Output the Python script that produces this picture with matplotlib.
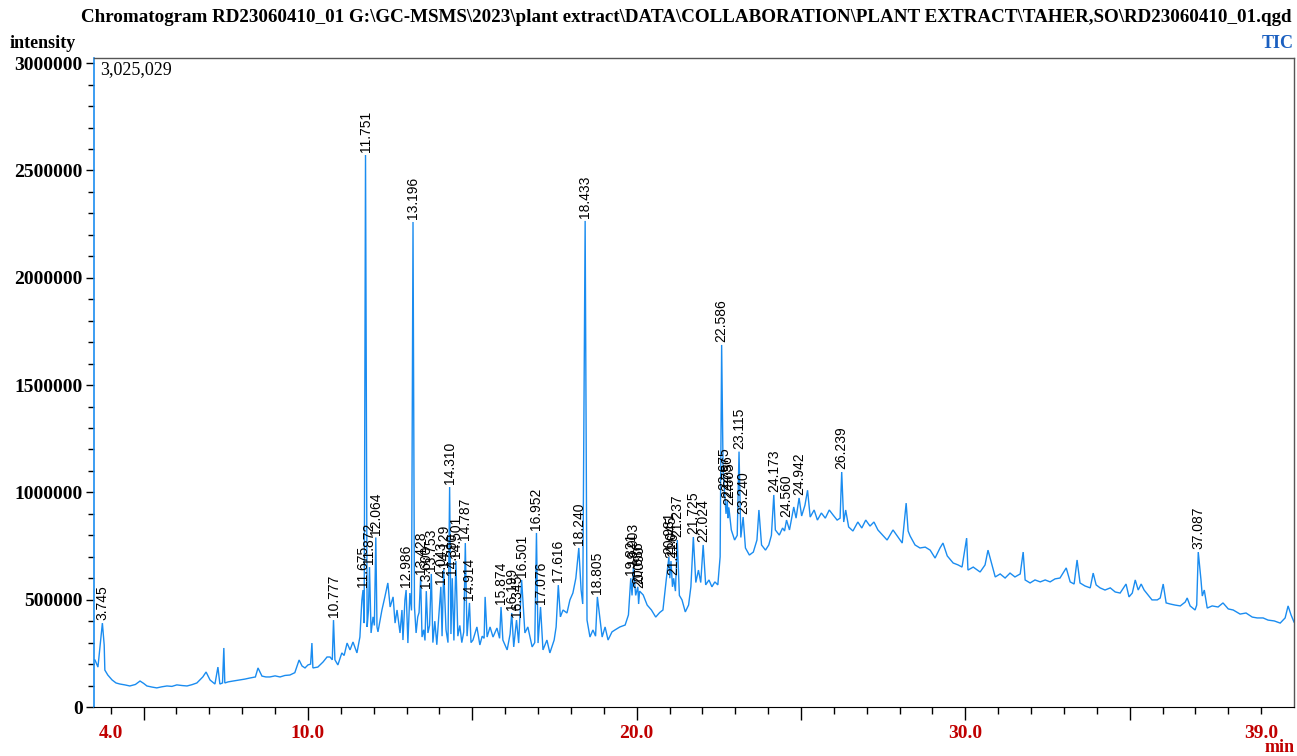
import matplotlib
matplotlib.use("Agg")
import matplotlib.pyplot as plt
import matplotlib.transforms as mtransforms
from matplotlib.ticker import FixedLocator, MultipleLocator, NullFormatter

# ---- TIC trace: retention time (min) and intensity between labelled peaks ----
base_min = [
    3.49, 3.52, 3.61, 3.80, 3.82, 3.91, 4.04, 4.16, 4.28, 4.43, 4.58, 4.75, 4.89,
    5.00, 5.10, 5.25, 5.40, 5.55, 5.71, 5.86, 6.01, 6.17, 6.32, 6.47, 6.62, 6.80,
    6.90, 7.02, 7.17, 7.26, 7.32, 7.40, 7.44, 7.47, 7.57, 7.72, 7.93, 8.08, 8.23,
    8.40, 8.48, 8.60, 8.72, 8.84, 9.00, 9.15, 9.30, 9.45, 9.60, 9.73, 9.82, 9.91,
    10.00, 10.08, 10.12, 10.15, 10.30, 10.46, 10.58, 10.67, 10.74, 10.82, 10.91,
    11.03, 11.10, 11.19, 11.28, 11.37, 11.49, 11.58, 11.64, 11.71, 11.80, 11.84,
    11.92, 11.98, 12.02, 12.10, 12.13, 12.25, 12.34, 12.43, 12.50, 12.59, 12.65,
    12.71, 12.80, 12.86, 12.89, 12.95, 13.04, 13.10, 13.15, 13.24, 13.29, 13.34,
    13.38, 13.47, 13.52, 13.56, 13.65, 13.70, 13.80, 13.86, 13.92, 13.98, 14.08,
    14.20, 14.26, 14.35, 14.44, 14.56, 14.62, 14.68, 14.74, 14.84, 14.96, 15.02,
    15.14, 15.23, 15.30, 15.36, 15.39, 15.45, 15.54, 15.63, 15.75, 15.83, 15.93,
    16.06, 16.15, 16.26, 16.41, 16.60, 16.69, 16.82, 16.90, 17.00, 17.15, 17.27,
    17.36, 17.49, 17.55, 17.68, 17.76, 17.88, 17.97, 18.06, 18.15, 18.31, 18.36,
    18.49, 18.58, 18.67, 18.75, 18.89, 18.95, 19.04, 19.13, 19.25, 19.34, 19.49,
    19.65, 19.75, 19.86, 19.97, 20.06, 20.20, 20.32, 20.45, 20.58, 20.70, 20.80,
    20.90, 21.01, 21.09, 21.18, 21.30, 21.38, 21.48, 21.58, 21.65, 21.80, 21.88,
    21.95, 22.10, 22.20, 22.29, 22.38, 22.47, 22.54, 22.63, 22.72, 22.78, 22.88,
    22.98, 23.06, 23.17, 23.31, 23.43, 23.55, 23.66, 23.72, 23.80, 23.92, 24.02,
    24.10, 24.22, 24.34, 24.44, 24.50, 24.65, 24.78, 24.85, 25.02, 25.12, 25.20,
    25.28, 25.40, 25.50, 25.62, 25.74, 25.86, 25.98, 26.10, 26.19, 26.30, 26.36,
    26.45, 26.58, 26.73, 26.85, 26.97, 27.10, 27.22, 27.34, 27.62, 27.80, 27.95,
    28.08, 28.20, 28.26, 28.32, 28.47, 28.62, 28.78, 28.93, 29.08, 29.23, 29.32,
    29.45, 29.63, 29.78, 29.90, 30.04, 30.08, 30.24, 30.45, 30.60, 30.69, 30.81,
    30.91, 31.06, 31.21, 31.36, 31.51, 31.67, 31.76, 31.82, 31.97, 32.12, 32.28,
    32.43, 32.58, 32.73, 32.88, 33.07, 33.19, 33.31, 33.40, 33.49, 33.64, 33.80,
    33.89, 33.98, 34.10, 34.25, 34.41, 34.56, 34.71, 34.89, 34.98, 35.08, 35.17,
    35.26, 35.35, 35.44, 35.56, 35.68, 35.84, 35.93, 36.02, 36.11, 36.23, 36.38,
    36.54, 36.69, 36.75, 36.84, 36.99, 37.04, 37.17, 37.21, 37.27, 37.36, 37.51,
    37.69, 37.84, 38.00, 38.15, 38.36, 38.54, 38.73, 38.88, 39.06, 39.21, 39.40,
    39.58, 39.73, 39.82, 39.91, 40.00,
]
base_int = [
    219000, 219000, 186000, 289000, 172000, 149000, 126000, 112000, 107000, 103000,
    98000, 105000, 121000, 110000, 98000, 93000, 89000, 94000, 98000, 96000,
    103000, 100000, 98000, 104000, 112000, 140000, 163000, 126000, 107000, 186000,
    107000, 112000, 275000, 112000, 117000, 121000, 126000, 130000, 135000, 140000,
    182000, 144000, 140000, 140000, 145000, 140000, 147000, 149000, 160000, 219000,
    191000, 182000, 196000, 200000, 298000, 182000, 186000, 210000, 233000, 233000,
    220000, 220000, 196000, 252000, 240000, 298000, 266000, 303000, 252000, 326000,
    499000, 391000, 373000, 450000, 345000, 420000, 380000, 373000, 350000, 452000,
    513000, 578000, 466000, 513000, 391000, 452000, 345000, 452000, 312000, 499000,
    298000, 531000, 450000, 466000, 345000, 420000, 440000, 326000, 360000, 310000,
    345000, 380000, 300000, 400000, 290000, 420000, 330000, 360000, 300000, 340000,
    310000, 330000, 380000, 300000, 350000, 330000, 300000, 312000, 373000, 289000,
    330000, 320000, 513000, 326000, 373000, 326000, 368000, 320000, 312000, 266000,
    340000, 280000, 298000, 345000, 373000, 280000, 300000, 298000, 266000, 312000,
    252000, 312000, 373000, 420000, 452000, 438000, 499000, 531000, 600000, 545000,
    480000, 405000, 326000, 359000, 330000, 405000, 326000, 373000, 312000, 350000,
    359000, 373000, 382000, 429000, 520000, 520000, 480000, 522000, 475000, 452000,
    419000, 440000, 452000, 592000, 600000, 560000, 540000, 520000, 499000, 443000,
    475000, 560000, 580000, 638000, 580000, 569000, 592000, 560000, 583000, 569000,
    700000, 1100000, 900000, 880000, 825000, 778000, 800000, 790000, 741000, 708000,
    722000, 778000, 918000, 755000, 731000, 755000, 800000, 825000, 801000, 834000,
    820000, 825000, 932000, 880000, 890000, 940000, 1010000, 885000, 918000, 871000,
    904000, 880000, 918000, 894000, 871000, 880000, 862000, 918000, 839000, 820000,
    862000, 834000, 871000, 843000, 862000, 825000, 778000, 825000, 792000, 764000,
    950000, 820000, 797000, 755000, 741000, 745000, 731000, 694000, 741000, 764000,
    704000, 671000, 662000, 652000, 787000, 638000, 652000, 629000, 662000, 731000,
    662000, 606000, 620000, 601000, 624000, 606000, 620000, 722000, 592000, 578000,
    592000, 583000, 592000, 583000, 597000, 601000, 648000, 583000, 573000, 685000,
    578000, 564000, 555000, 624000, 569000, 555000, 545000, 555000, 536000, 531000,
    573000, 513000, 531000, 592000, 545000, 573000, 545000, 522000, 499000, 499000,
    508000, 573000, 485000, 480000, 475000, 471000, 489000, 508000, 471000, 452000,
    475000, 592000, 517000, 545000, 461000, 471000, 466000, 485000, 457000, 452000,
    433000, 438000, 419000, 415000, 415000, 405000, 401000, 391000, 415000, 471000,
    429000, 396000,
]

# ---- labelled peaks: retention time (min) and apex intensity ----
peak_rt = [
    3.745, 10.777, 11.675, 11.751, 11.872, 12.064, 12.986, 13.196, 13.428, 13.600,
    13.753, 14.043, 14.129, 14.310, 14.390, 14.501, 14.787, 14.914, 15.874, 16.199,
    16.345, 16.501, 16.952, 17.076, 17.616, 18.240, 18.433, 18.805, 19.821, 19.903,
    20.036, 20.090, 20.981, 21.045, 21.126, 21.237, 21.725, 22.024, 22.586, 22.675,
    22.756, 22.805, 23.115, 23.240, 24.173, 24.560, 24.942, 26.239, 37.087,
]
peak_int = [
    391000, 405000, 545000, 2572000, 652000, 790000, 545000, 2260000, 606000, 540000,
    620000, 560000, 640000, 1025000, 600000, 680000, 764000, 485000, 466000, 438000,
    405000, 592000, 811000, 466000, 568000, 741000, 2265000, 513000, 600000, 650000,
    560000, 540000, 699000, 680000, 600000, 778000, 792000, 755000, 1687000, 1000000,
    960000, 930000, 1190000, 885000, 988000, 871000, 974000, 1095000, 722000,
]

y_ticks = [0, 500000, 1000000, 1500000, 2000000, 2500000, 3000000]
x_label_pos = [4.0, 10.0, 20.0, 30.0, 39.0]
x_major = [5, 10, 15, 20, 25, 30, 35]
y_max = 3025029
title = ("Chromatogram RD23060410_01 G:\\GC-MSMS\\2023\\plant extract\\DATA\\"
         "COLLABORATION\\PLANT EXTRACT\\TAHER,SO\\RD23060410_01.qgd")

SERIF = "Liberation Serif"
SANS = "Liberation Sans"
TRACE = "#1a8cf0"
DARK_RED = "#c00000"

W, H = 1297, 756
fig = plt.figure(figsize=(W / 100, H / 100), dpi=100)
ax = fig.add_axes([94 / W, 49 / H, 1200 / W, 649.2 / H])

pts = sorted(zip(base_min + peak_rt, base_int + peak_int))
ax.plot([p[0] for p in pts], [p[1] for p in pts], color=TRACE, lw=1.0,
        solid_joinstyle="miter")

ax.set_xlim(3.49, 40.0)
ax.set_ylim(0, y_max)

for rt, h in zip(peak_rt, peak_int):
    ax.annotate(f"{rt:.3f}", (rt, h), xytext=(0, 2), textcoords="offset points",
                rotation=90, ha="center", va="bottom", fontsize=10,
                family=SANS, color="black")

# y axis
ax.yaxis.set_major_locator(FixedLocator(y_ticks))
ax.yaxis.set_minor_locator(MultipleLocator(100000))
ax.set_yticklabels([str(v) for v in y_ticks], fontsize=14, fontweight="bold",
                   family=SERIF)
ax.tick_params(axis="y", which="major", length=6, width=1, pad=2)
ax.tick_params(axis="y", which="minor", length=4, width=1)

# x axis: long ticks every 5 min, short every minute, labels drawn separately
ax.xaxis.set_major_locator(FixedLocator(x_major))
ax.xaxis.set_minor_locator(FixedLocator([m for m in range(4, 40) if m % 5]))
ax.xaxis.set_major_formatter(NullFormatter())
ax.tick_params(axis="x", which="major", length=9, width=1)
ax.tick_params(axis="x", which="minor", length=5, width=1)
trans = mtransforms.blended_transform_factory(ax.transData, ax.transAxes)
for v in x_label_pos:
    ax.text(v, -26 / 649.2, f"{v:.1f}", transform=trans, ha="center",
            va="center", fontsize=14, fontweight="bold", family=SERIF,
            color=DARK_RED)

for side in ("top", "right"):
    ax.spines[side].set_color("#555555")
    ax.spines[side].set_linewidth(1.0)
ax.spines["bottom"].set_color("black")
ax.spines["left"].set_color(TRACE)
ax.spines["left"].set_linewidth(1.2)

ax.text(6 / 1200, (707 - 70) / 649.2, "3,025,029", transform=ax.transAxes,
        ha="left", va="center", fontsize=13, family=SERIF)

fig.text(686 / W, 1 - 18 / H, title, ha="center", va="center", fontsize=13.7,
         fontweight="bold", family=SERIF)
fig.text(10 / W, 1 - 43 / H, "intensity", ha="left", va="center", fontsize=13,
         fontweight="bold", family=SERIF)
fig.text(1294 / W, 1 - 43 / H, "TIC", ha="right", va="center", fontsize=13,
         fontweight="bold", family=SERIF, color="#1a5fc0")
fig.text(1295 / W, 1 - 748 / H, "min", ha="right", va="center", fontsize=13,
         fontweight="bold", family=SERIF, color=DARK_RED)

fig.savefig("out.png", dpi=100)
